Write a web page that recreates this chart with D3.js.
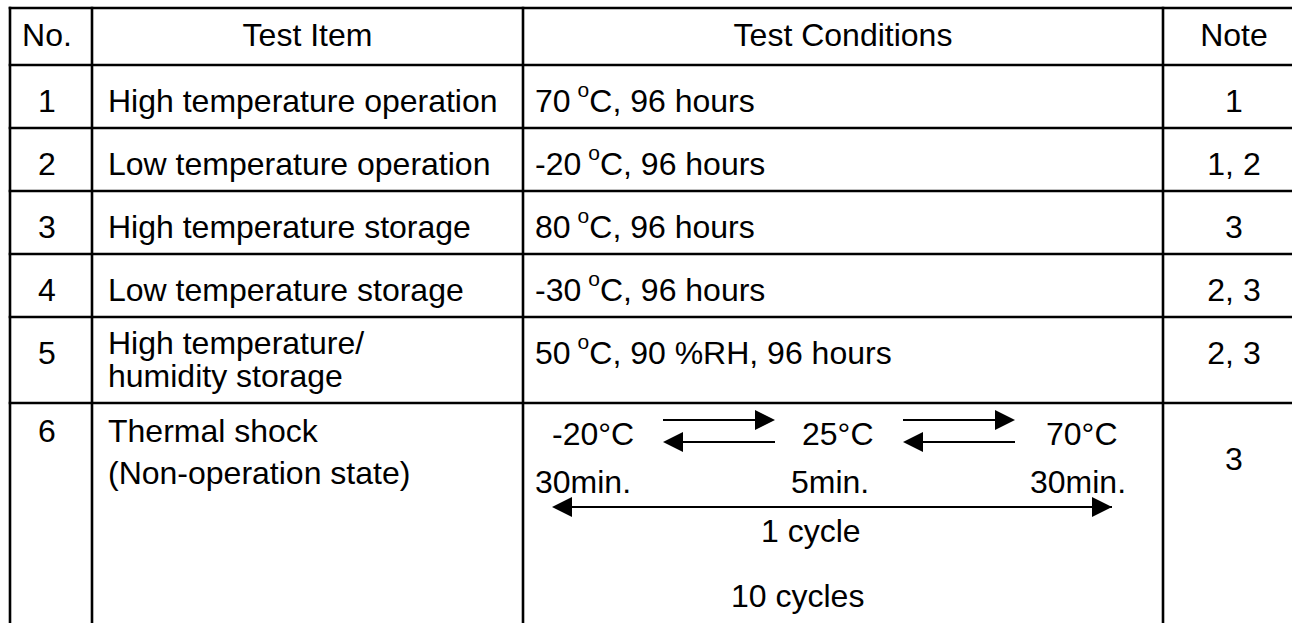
<!DOCTYPE html>
<html>
<head>
<meta charset="utf-8">
<script src="https://cdn.jsdelivr.net/npm/d3@7"></script>
<style>
  html, body { margin: 0; padding: 0; background: #fff; }
  svg { display: block; }
  text { font-family: "Liberation Sans", Arial, Helvetica, sans-serif; fill: #000; }
</style>
</head>
<body>
<svg id="chart" width="1292" height="623"></svg>
<script>
// ---------- data ----------
const headers = ["No.", "Test Item", "Test Conditions", "Note"];
const rowNumbers = ["1", "2", "3", "4", "5", "6"];
const testItems = [
  ["High temperature operation"],
  ["Low temperature operation"],
  ["High temperature storage"],
  ["Low temperature storage"],
  ["High temperature/", "humidity storage"],
  ["Thermal shock", "(Non-operation state)"]
];
const conditionTemps = ["70", "-20", "80", "-30", "50"];
const conditionRest = ["C, 96 hours", "C, 96 hours", "C, 96 hours", "C, 96 hours", "C, 90 %RH, 96 hours"];
const notes = ["1", "1, 2", "3", "2, 3", "2, 3", "3"];
const cycleTemps = ["-20°C", "25°C", "70°C"];
const cycleTimes = ["30min.", "5min.", "30min."];
const cycleLabel = "1 cycle";
const repeatLabel = "10 cycles";

// ---------- layout ----------
const W = 1292, H = 623;
const FS = 32;
const colEdges = [10, 92, 523, 1163, 1304];
const rowEdges = [8, 65, 128, 191, 254, 317, 403];
const svg = d3.select("#chart");

const colCenter = i => (colEdges[i] + colEdges[i + 1]) / 2;

// grid lines
const grid = svg.append("g").attr("stroke", "#000").attr("stroke-width", 2.6);
grid.selectAll("line.h").data(rowEdges).join("line")
  .attr("x1", colEdges[0] - 1.3).attr("x2", W + 10)
  .attr("y1", d => d).attr("y2", d => d);
grid.selectAll("line.v").data(colEdges).join("line")
  .attr("x1", d => d).attr("x2", d => d)
  .attr("y1", rowEdges[0] - 1.3).attr("y2", H + 10);

const fontStyle = sel => sel.attr("font-size", FS);

// header
const headerX = [47, colCenter(1), colCenter(2), 1234];
svg.append("g").selectAll("text").data(headers).join("text")
  .call(fontStyle)
  .attr("text-anchor", "middle")
  .attr("x", (d, i) => headerX[i])
  .attr("y", rowEdges[0] + 38)
  .text(d => d);

// row baseline helpers
const singleBase = i => rowEdges[i + 1] + 46.5;

// numbers
svg.append("g").selectAll("text").data(rowNumbers).join("text")
  .call(fontStyle)
  .attr("text-anchor", "middle")
  .attr("x", 47)
  .attr("y", (d, i) => i < 5 ? singleBase(i) : rowEdges[6] + 39)
  .text(d => d);

// test items
const itemG = svg.append("g");
testItems.forEach((lines, i) => {
  let bases;
  if (lines.length === 1) bases = [singleBase(i)];
  else if (i === 4) bases = [rowEdges[5] + 37, rowEdges[5] + 70];
  else bases = [rowEdges[6] + 39, rowEdges[6] + 81];
  itemG.selectAll(null).data(lines).join("text")
    .call(fontStyle)
    .attr("x", 108)
    .attr("y", (d, k) => bases[k])
    .text(d => d);
});

// test conditions rows 1-5
const condG = svg.append("g");
conditionTemps.forEach((t, i) => {
  const txt = condG.append("text").call(fontStyle)
    .attr("x", 535).attr("y", singleBase(i));
  txt.append("tspan").text(t);
  txt.append("tspan").attr("font-size", 21).attr("dx", 7).attr("dy", -15).text("o");
  txt.append("tspan").attr("dy", 15).text(conditionRest[i]);
});

// notes
svg.append("g").selectAll("text").data(notes).join("text")
  .call(fontStyle)
  .attr("text-anchor", "middle")
  .attr("x", 1234)
  .attr("y", (d, i) => i < 5 ? singleBase(i) : rowEdges[6] + 67)
  .text(d => d);

// thermal shock diagram
const top6 = rowEdges[6];
const tempX = [552, 802, 1046];
const timeX = [535, 791, 1030];
const diag = svg.append("g");
diag.selectAll("text.temp").data(cycleTemps).join("text")
  .call(fontStyle)
  .attr("x", (d, i) => tempX[i]).attr("y", top6 + 42)
  .text(d => d);
diag.selectAll("text.time").data(cycleTimes).join("text")
  .call(fontStyle)
  .attr("x", (d, i) => timeX[i]).attr("y", top6 + 90)
  .text(d => d);
diag.append("text").call(fontStyle).attr("x", 761).attr("y", top6 + 139).text(cycleLabel);
diag.append("text").call(fontStyle).attr("x", 731).attr("y", top6 + 204).text(repeatLabel);

function arrow(x1, x2, y) {
  // arrow pointing from x1 to x2
  const dir = Math.sign(x2 - x1);
  const headLen = 20, half = 10;
  diag.append("line")
    .attr("x1", x1).attr("x2", x2 - dir * headLen)
    .attr("y1", y).attr("y2", y)
    .attr("stroke", "#000").attr("stroke-width", 2);
  diag.append("path")
    .attr("d", d3.line()([[x2, y], [x2 - dir * headLen, y - half], [x2 - dir * headLen, y + half]]) + "Z")
    .attr("fill", "#000");
}
const pairs = [[663, 775], [903, 1015]];
pairs.forEach(([a, b]) => {
  arrow(a, b, top6 + 17);
  arrow(b, a, top6 + 39);
});
arrow(1112, 552, top6 + 104);
diag.append("path")
  .attr("d", d3.line()([[1112, top6 + 104], [1092, top6 + 94], [1092, top6 + 114]]) + "Z")
  .attr("fill", "#000");
</script>
</body>
</html>
